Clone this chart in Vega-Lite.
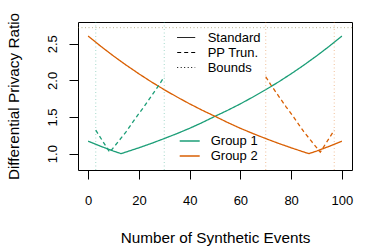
{
  "$schema": "https://vega.github.io/schema/vega-lite/v6.json",
  "width": 274,
  "height": 148,
  "autosize": {"type": "none"},
  "padding": {"left": 78, "top": 22, "right": 22, "bottom": 79},
  "background": "white",
  "config": {
    "font": "Liberation Sans",
    "view": {"stroke": "black", "strokeWidth": 1},
    "axis": {"grid": false, "domain": false, "tickColor": "black", "tickWidth": 1, "tickSize": 9,
      "labelColor": "black", "labelFontSize": 13, "labelFont": "Liberation Sans",
      "titleColor": "black", "titleFontSize": 15.3, "titleFontWeight": "normal", "titleFont": "Liberation Sans"},
    "legend": {"labelFont": "Liberation Sans", "labelFontSize": 13, "labelColor": "black", "padding": 0}
  },
  "datasets": {
    "curves": [
      {"g": "Group 1", "t": "Standard", "x": 0, "y": 1.17},
      {"g": "Group 1", "t": "Standard", "x": 5, "y": 1.10},
      {"g": "Group 1", "t": "Standard", "x": 10, "y": 1.035},
      {"g": "Group 1", "t": "Standard", "x": 13, "y": 1.0},
      {"g": "Group 1", "t": "Standard", "x": 20, "y": 1.080},
      {"g": "Group 1", "t": "Standard", "x": 25, "y": 1.141},
      {"g": "Group 1", "t": "Standard", "x": 30, "y": 1.206},
      {"g": "Group 1", "t": "Standard", "x": 35, "y": 1.274},
      {"g": "Group 1", "t": "Standard", "x": 40, "y": 1.346},
      {"g": "Group 1", "t": "Standard", "x": 45, "y": 1.425},
      {"g": "Group 1", "t": "Standard", "x": 50, "y": 1.51},
      {"g": "Group 1", "t": "Standard", "x": 55, "y": 1.592},
      {"g": "Group 1", "t": "Standard", "x": 60, "y": 1.68},
      {"g": "Group 1", "t": "Standard", "x": 65, "y": 1.774},
      {"g": "Group 1", "t": "Standard", "x": 70, "y": 1.873},
      {"g": "Group 1", "t": "Standard", "x": 75, "y": 1.978},
      {"g": "Group 1", "t": "Standard", "x": 80, "y": 2.090},
      {"g": "Group 1", "t": "Standard", "x": 85, "y": 2.208},
      {"g": "Group 1", "t": "Standard", "x": 90, "y": 2.333},
      {"g": "Group 1", "t": "Standard", "x": 95, "y": 2.465},
      {"g": "Group 1", "t": "Standard", "x": 100, "y": 2.605},
      {"g": "Group 2", "t": "Standard", "x": 0, "y": 2.605},
      {"g": "Group 2", "t": "Standard", "x": 5, "y": 2.465},
      {"g": "Group 2", "t": "Standard", "x": 10, "y": 2.333},
      {"g": "Group 2", "t": "Standard", "x": 15, "y": 2.208},
      {"g": "Group 2", "t": "Standard", "x": 20, "y": 2.090},
      {"g": "Group 2", "t": "Standard", "x": 25, "y": 1.978},
      {"g": "Group 2", "t": "Standard", "x": 30, "y": 1.873},
      {"g": "Group 2", "t": "Standard", "x": 35, "y": 1.774},
      {"g": "Group 2", "t": "Standard", "x": 40, "y": 1.68},
      {"g": "Group 2", "t": "Standard", "x": 45, "y": 1.592},
      {"g": "Group 2", "t": "Standard", "x": 50, "y": 1.51},
      {"g": "Group 2", "t": "Standard", "x": 55, "y": 1.425},
      {"g": "Group 2", "t": "Standard", "x": 60, "y": 1.346},
      {"g": "Group 2", "t": "Standard", "x": 65, "y": 1.274},
      {"g": "Group 2", "t": "Standard", "x": 70, "y": 1.206},
      {"g": "Group 2", "t": "Standard", "x": 75, "y": 1.141},
      {"g": "Group 2", "t": "Standard", "x": 80, "y": 1.080},
      {"g": "Group 2", "t": "Standard", "x": 87, "y": 1.0},
      {"g": "Group 2", "t": "Standard", "x": 90, "y": 1.035},
      {"g": "Group 2", "t": "Standard", "x": 95, "y": 1.10},
      {"g": "Group 2", "t": "Standard", "x": 100, "y": 1.17},
      {"g": "Group 1", "t": "PP Trun.", "x": 3, "y": 1.32},
      {"g": "Group 1", "t": "PP Trun.", "x": 8.5, "y": 1.02},
      {"g": "Group 1", "t": "PP Trun.", "x": 12, "y": 1.17},
      {"g": "Group 1", "t": "PP Trun.", "x": 15, "y": 1.30},
      {"g": "Group 1", "t": "PP Trun.", "x": 19, "y": 1.50},
      {"g": "Group 1", "t": "PP Trun.", "x": 22, "y": 1.64},
      {"g": "Group 1", "t": "PP Trun.", "x": 25, "y": 1.79},
      {"g": "Group 1", "t": "PP Trun.", "x": 28, "y": 1.94},
      {"g": "Group 1", "t": "PP Trun.", "x": 30, "y": 2.05},
      {"g": "Group 2", "t": "PP Trun.", "x": 70, "y": 2.05},
      {"g": "Group 2", "t": "PP Trun.", "x": 72, "y": 1.94},
      {"g": "Group 2", "t": "PP Trun.", "x": 75, "y": 1.79},
      {"g": "Group 2", "t": "PP Trun.", "x": 78, "y": 1.64},
      {"g": "Group 2", "t": "PP Trun.", "x": 81, "y": 1.50},
      {"g": "Group 2", "t": "PP Trun.", "x": 85, "y": 1.30},
      {"g": "Group 2", "t": "PP Trun.", "x": 88, "y": 1.17},
      {"g": "Group 2", "t": "PP Trun.", "x": 91.5, "y": 1.02},
      {"g": "Group 2", "t": "PP Trun.", "x": 97, "y": 1.32}
    ],
    "vbounds": [
      {"g": "Group 1", "t": "Bounds", "bx": 3},
      {"g": "Group 1", "t": "Bounds", "bx": 30},
      {"g": "Group 2", "t": "Bounds", "bx": 70},
      {"g": "Group 2", "t": "Bounds", "bx": 97}
    ],
    "hbounds": [
      {"g": "Group 1", "t": "Bounds", "by": 2.72},
      {"g": "Group 2", "t": "Bounds", "by": 2.72}
    ]
  },
  "encoding": {
    "color": {
      "field": "g", "type": "nominal",
      "scale": {"domain": ["Group 1", "Group 2"], "range": ["#1B9E77", "#D95F02"]},
      "legend": {"title": null, "orient": "none", "legendX": 100.7, "legendY": 111.5,
        "symbolType": "stroke", "symbolSize": 400, "symbolStrokeWidth": 1.3, "symbolDash": [1, 0],
        "labelOffset": 10, "clipHeight": 15, "rowPadding": 0, "symbolOpacity": 1}
    },
    "strokeDash": {
      "field": "t", "type": "nominal",
      "scale": {"domain": ["Standard", "PP Trun.", "Bounds"], "range": [[1, 0], [4, 3], [1, 2.5]]},
      "legend": {"title": null, "orient": "none", "legendX": 98.7, "legendY": 8,
        "symbolType": "stroke", "symbolSize": 324, "symbolStrokeColor": "black", "symbolStrokeWidth": 1,
        "symbolOpacity": 1, "labelOffset": 12, "clipHeight": 15, "rowPadding": 0}
    }
  },
  "layer": [
    {
      "data": {"name": "vbounds"},
      "mark": {"type": "rule", "opacity": 0.4, "strokeWidth": 1},
      "encoding": {
        "x": {"field": "bx", "type": "quantitative", "scale": {"domain": [-4, 104], "nice": false, "zero": false}}
      }
    },
    {
      "data": {"name": "hbounds"},
      "mark": {"type": "rule", "opacity": 0.3, "strokeWidth": 1},
      "encoding": {
        "y": {"field": "by", "type": "quantitative", "scale": {"domain": [0.777, 2.797], "nice": false, "zero": false}}
      }
    },
    {
      "data": {"name": "curves"},
      "mark": {"type": "line", "strokeWidth": 1.3},
      "encoding": {
        "x": {"field": "x", "type": "quantitative",
          "scale": {"domain": [-4, 104], "nice": false, "zero": false},
          "axis": {"values": [0, 20, 40, 60, 80, 100], "title": "Number of Synthetic Events",
            "labelBaseline": "alphabetic", "labelPadding": 25.3,
            "titleBaseline": "alphabetic", "titleY": 72.7}},
        "y": {"field": "y", "type": "quantitative",
          "scale": {"domain": [0.777, 2.797], "nice": false, "zero": false},
          "axis": {"values": [1.0, 1.5, 2.0, 2.5], "format": ".1f", "title": "Differential Privacy Ratio",
            "labelAngle": -90, "labelAlign": "center", "labelBaseline": "alphabetic", "labelPadding": 12.6,
            "titleAngle": -90, "titleBaseline": "alphabetic", "titleX": -59.3}}
      }
    }
  ]
}
